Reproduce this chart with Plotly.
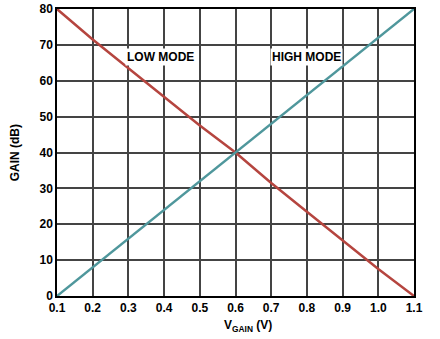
import plotly.graph_objs as go

# Data
v_gain = [0.1, 0.2, 0.3, 0.4, 0.5, 0.6, 0.7, 0.8, 0.9, 1.0, 1.1]
high_mode = [0, 8, 16, 24, 32, 40, 48, 56, 64, 72, 80]
low_mode = [80, 71.5, 63.5, 55.5, 47.5, 40, 31.5, 23.5, 15.5, 7.5, 0]

x_ticks = [0.1, 0.2, 0.3, 0.4, 0.5, 0.6, 0.7, 0.8, 0.9, 1.0, 1.1]
x_tick_text = ["0.1", "0.2", "0.3", "0.4", "0.5", "0.6", "0.7", "0.8", "0.9", "1.0", "1.1"]
y_ticks = [0, 10, 20, 30, 40, 50, 60, 70, 80]

fig = go.Figure()
fig.add_scatter(x=v_gain, y=low_mode, mode='lines', name='LOW MODE',
                line=dict(color="#B5453F", width=2.5))
fig.add_scatter(x=v_gain, y=high_mode, mode='lines', name='HIGH MODE',
                line=dict(color="#4F979C", width=2.5))

label_font = dict(family="Liberation Sans, Arial, sans-serif", size=12, color="#000")
fig.add_annotation(x=0.39, y=66.5, text="<b>LOW MODE</b>", showarrow=False,
                   font=label_font, bgcolor="white", borderpad=1)
fig.add_annotation(x=0.8, y=66.5, text="<b>HIGH MODE</b>", showarrow=False,
                   font=label_font, bgcolor="white", borderpad=1)

# axis titles as annotations so they sit where the reference has them
fig.add_annotation(xref="paper", yref="paper", x=-0.118, y=0.5, textangle=-90,
                   xanchor="center", yanchor="middle",
                   text="<b>GAIN (dB)</b>", showarrow=False, font=label_font)
fig.add_annotation(xref="paper", yref="paper", x=0.535, y=-0.105,
                   xanchor="center", yanchor="middle",
                   text="<b>V<sub>GAIN</sub> (V)</b>", showarrow=False, font=label_font)

fig.update_layout(
    width=440, height=339,
    margin=dict(l=57, r=26, t=9, b=43),
    showlegend=False,
    plot_bgcolor='#FFFFFF', paper_bgcolor='#FFFFFF',
    font=dict(family="Liberation Sans, Arial, sans-serif", size=12, color="#000"),
    xaxis=dict(
        range=[0.1, 1.1], tickvals=x_ticks, ticktext=[f"<b>{t}</b>" for t in x_tick_text],
        showgrid=True, gridcolor="#444", gridwidth=1.5, zeroline=False, automargin=False,
        showline=True, linecolor="#000", linewidth=1.5, mirror=True, ticks="",
    ),
    yaxis=dict(
        range=[0, 80], tickvals=y_ticks, ticktext=[f"<b>{t}</b>" for t in y_ticks],
        showgrid=True, gridcolor="#444", gridwidth=1.5, zeroline=False, automargin=False,
        showline=True, linecolor="#000", linewidth=1.5, mirror=True, ticks="",
    ),
)

# drop the browser's default body margin so the figure fills the window
fig.write_html("out.html", config={'displayModeBar': False},
               post_script="document.body.style.margin='0';")
